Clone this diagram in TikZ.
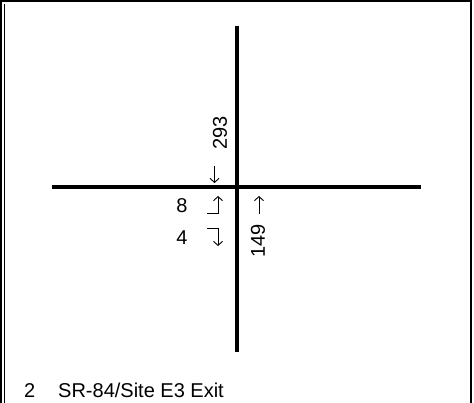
\documentclass[tikz,border=0pt]{standalone}
\usepackage{fontspec}
\setmainfont{Liberation Sans}
\usetikzlibrary{arrows.meta}
\tikzset{
  road/.style={line width=3.6pt},
  lbl/.style={inner sep=0pt, font=\fontsize{20}{20}\selectfont},
  turn/.style={line width=0.9pt, -{Straight Barb[length=4pt,width=9pt]}},
  frame/.style={line width=2.4pt}
}
\begin{document}
\begin{tikzpicture}[x=1pt,y=-1pt]
\useasboundingbox (0,0) rectangle (474,403);
\fill[white] (0,0) rectangle (474,403);
% frame
\draw[frame] (1.2,403) -- (1.2,1.2) -- (471,1.2) -- (471,403);
\draw[line width=0.9pt] (4.6,403) -- (4.6,4);
% roads
\coordinate (n) at (237,26);
\coordinate (s) at (237,352);
\coordinate (w) at (52,187);
\coordinate (e) at (421,187);
\draw[road] (n) -- (s);
\draw[road] (w) -- (e);
% labels
\node[lbl, rotate=90] (t293) at (220,133) {293};
\node[lbl] (t8) at (182,206) {8};
\node[lbl] (t4) at (182,238) {4};
\node[lbl, rotate=90] (t149) at (258,241) {149};
% through arrows
\coordinate (d1) at (214.5,166);
\coordinate (d2) at (214.5,183);
\draw[turn] (d1) -- (d2);
\coordinate (u1) at (259,214);
\coordinate (u2) at (259,196);
\draw[turn] (u1) -- (u2);
% turn arrows
\coordinate (l1) at (207,213);
\coordinate (l2) at (218,213);
\coordinate (l3) at (218,196);
\draw[turn] (l1) -- (l2) -- (l3);
\coordinate (r1) at (207,228);
\coordinate (r2) at (218,228);
\coordinate (r3) at (218,246);
\draw[turn] (r1) -- (r2) -- (r3);
\node[lbl, anchor=base west] (num) at (24,397) {2};
\node[lbl, anchor=base west] (name) at (58,397) {SR-84/Site E3 Exit};
\end{tikzpicture}
\end{document}
